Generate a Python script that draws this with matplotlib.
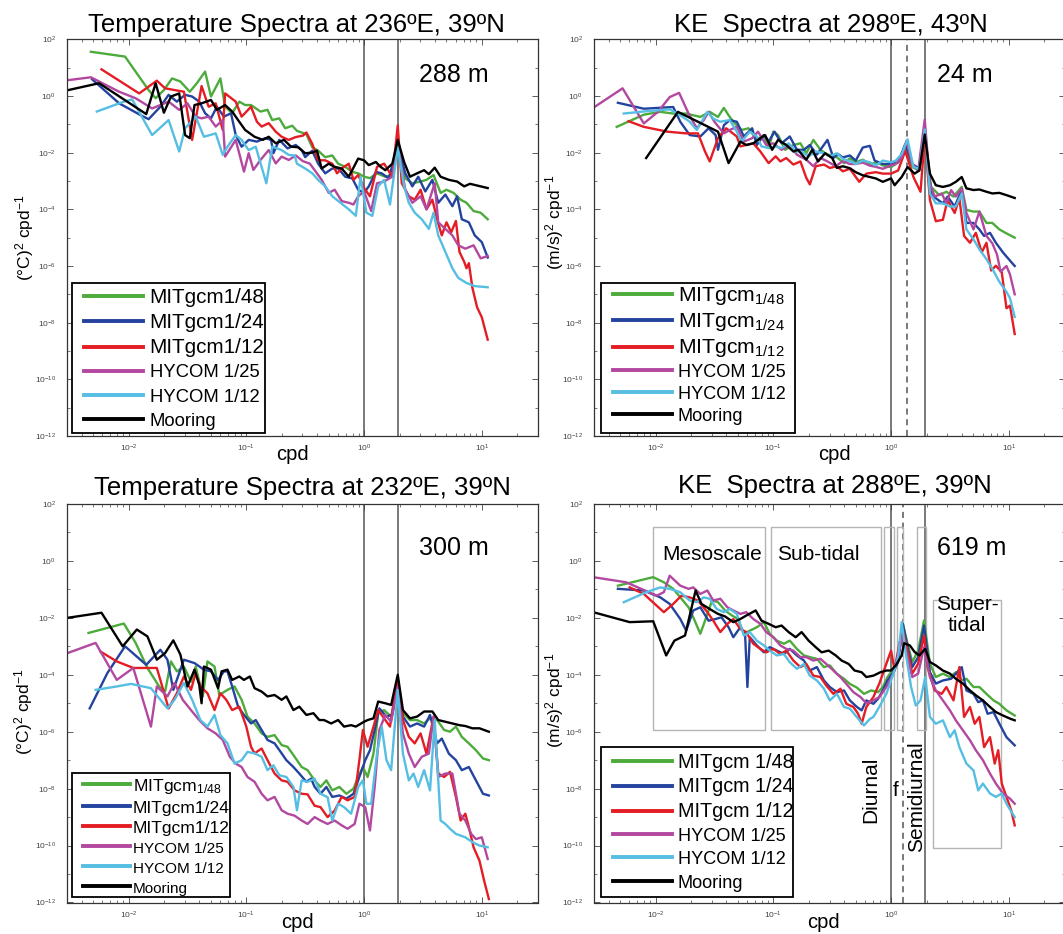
"""Four-panel spectra comparison (temperature and KE), log-log, file output only."""

import matplotlib

matplotlib.use("Agg")
import matplotlib.pyplot as plt
import numpy as np
from matplotlib.patches import Rectangle
from matplotlib.ticker import LogLocator, NullFormatter

plt.rcParams["font.family"] = ["Liberation Sans", "DejaVu Sans"]
plt.rcParams["mathtext.fontset"] = "custom"
plt.rcParams["mathtext.rm"] = "Liberation Sans"
plt.rcParams["mathtext.it"] = "Liberation Sans:italic"

# every series: (log10 frequency [cpd], log10 spectral density)
TL_GREEN = [(-2.32, 1.56), (-2.03, 1.39), (-1.91, 0.68), (-1.83, 0.21), (-1.77, -0.08), (-1.70, 0.21),
            (-1.63, 0.62), (-1.56, 0.51), (-1.48, 0.15), (-1.42, 0.45), (-1.35, 0.86), (-1.30, -0.02),
            (-1.22, 0.62), (-1.18, -0.38), (-1.12, -0.61), (-1.06, -0.20), (-1.01, -0.32), (-0.96, -0.32),
            (-0.88, -0.55), (-0.82, -0.49), (-0.78, -0.85), (-0.72, -0.79), (-0.67, -1.14), (-0.61, -1.05),
            (-0.57, -1.23), (-0.49, -1.35), (-0.44, -1.81), (-0.39, -1.93), (-0.33, -2.16), (-0.27, -2.10),
            (-0.22, -2.39), (-0.16, -2.50), (-0.10, -2.68), (-0.05, -2.73), (0.00, -2.85), (0.05, -2.90),
            (0.11, -2.73), (0.18, -2.85), (0.24, -2.79), (0.286, -1.55), (0.35, -2.91), (0.41, -3.08),
            (0.48, -3.02), (0.53, -2.96), (0.59, -2.79), (0.65, -3.42), (0.70, -3.31), (0.76, -3.42),
            (0.82, -3.66), (0.87, -3.77), (0.93, -4.06), (0.99, -4.12), (1.05, -4.35)]
TL_BLUE = [(-2.31, 0.59), (-2.08, -0.26), (-1.90, -0.67), (-1.83, -0.82), (-1.73, -0.38), (-1.66, 0.04),
           (-1.59, -0.20), (-1.52, 0.04), (-1.46, -0.02), (-1.40, -0.20), (-1.35, -0.61), (-1.30, -0.79),
           (-1.25, -0.38), (-1.19, -0.73), (-1.13, -0.61), (-1.09, -1.38), (-1.04, -1.79), (-0.98, -1.55),
           (-0.91, -1.61), (-0.84, -1.49), (-0.79, -1.55), (-0.77, -2.02), (-0.72, -1.55), (-0.65, -1.85),
           (-0.58, -1.73), (-0.53, -1.91), (-0.50, -2.16), (-0.44, -1.93), (-0.39, -2.39), (-0.33, -2.73),
           (-0.27, -2.56), (-0.22, -2.56), (-0.16, -2.85), (-0.10, -2.91), (-0.05, -3.31), (0.00, -3.42),
           (0.04, -3.19), (0.10, -2.68), (0.15, -2.73), (0.21, -2.91), (0.286, -1.75), (0.35, -2.73),
           (0.41, -3.19), (0.46, -2.85), (0.52, -3.37), (0.58, -2.96), (0.63, -3.77), (0.69, -3.48),
           (0.75, -3.89), (0.79, -3.54), (0.83, -4.35), (0.89, -4.46), (0.94, -4.92), (1.00, -5.16),
           (1.05, -5.70)]
TL_RED = [(-2.23, 0.94), (-1.91, 0.09), (-1.76, 0.54), (-1.69, 0.27), (-1.53, 0.15), (-1.46, -1.55),
          (-1.38, 0.35), (-1.32, -0.38), (-1.26, -0.26), (-1.20, -1.20), (-1.18, 0.09), (-1.09, -0.20),
          (-1.04, -0.73), (-0.96, -0.38), (-0.91, -0.91), (-0.87, -1.08), (-0.81, -0.96), (-0.75, -1.26),
          (-0.70, -1.44), (-0.64, -1.55), (-0.58, -1.45), (-0.52, -1.40), (-0.49, -1.29), (-0.44, -1.69),
          (-0.39, -2.27), (-0.33, -2.27), (-0.27, -2.39), (-0.23, -2.73), (-0.19, -2.56), (-0.13, -2.39),
          (-0.09, -2.96), (-0.05, -2.79), (0.00, -3.25), (0.05, -3.54), (0.11, -2.50), (0.17, -2.39),
          (0.24, -2.85), (0.286, -1.04), (0.32, -3.08), (0.38, -3.54), (0.43, -3.66), (0.48, -3.31),
          (0.53, -4.00), (0.58, -3.66), (0.62, -4.35), (0.66, -4.92), (0.70, -4.46), (0.74, -4.81),
          (0.78, -4.41), (0.81, -5.50), (0.85, -5.85), (0.87, -6.08), (0.89, -5.90), (0.92, -6.77),
          (0.96, -7.46), (1.00, -7.81), (1.05, -8.60)]
TL_MAGENTA = [(-2.51, 0.56), (-2.32, 0.66), (-2.08, 0.15), (-1.94, -0.08), (-1.80, -0.44), (-1.73, -0.32),
              (-1.66, -0.20), (-1.57, -0.49), (-1.50, -0.26), (-1.43, -0.73), (-1.38, -0.79), (-1.32, -0.73),
              (-1.26, -1.08), (-1.20, -0.85), (-1.18, -2.14), (-1.09, -1.55), (-1.02, -2.67), (-0.98, -2.02),
              (-0.94, -2.61), (-0.88, -2.26), (-0.81, -1.91), (-0.75, -2.38), (-0.70, -2.14), (-0.64, -2.26),
              (-0.58, -2.10), (-0.52, -2.30), (-0.46, -2.39), (-0.40, -2.73), (-0.36, -2.96), (-0.30, -3.42),
              (-0.25, -3.31), (-0.19, -3.71), (-0.13, -3.77), (-0.09, -3.83), (-0.05, -3.54), (0.00, -3.37),
              (0.06, -4.06), (0.11, -3.08), (0.17, -3.02), (0.24, -2.85), (0.286, -1.70), (0.35, -3.31),
              (0.41, -3.77), (0.48, -3.54), (0.53, -4.00), (0.60, -3.08), (0.63, -4.46), (0.69, -4.69),
              (0.75, -4.92), (0.80, -5.27), (0.86, -5.39), (0.93, -5.27), (0.99, -5.73), (1.05, -5.65)]
TL_CYAN = [(-2.27, -0.55), (-2.04, -0.20), (-1.97, -0.12), (-1.80, -1.38), (-1.66, -0.85), (-1.57, -1.96),
           (-1.52, -1.14), (-1.43, -0.73), (-1.36, -1.44), (-1.26, -1.32), (-1.20, -2.08), (-1.16, -1.79),
           (-1.09, -1.38), (-1.04, -1.55), (-0.98, -1.91), (-0.92, -1.79), (-0.83, -3.08), (-0.78, -1.79),
           (-0.70, -1.91), (-0.64, -2.08), (-0.59, -2.10), (-0.57, -2.39), (-0.50, -2.56), (-0.44, -2.73),
           (-0.39, -2.96), (-0.33, -3.19), (-0.27, -3.54), (-0.20, -3.77), (-0.13, -4.00), (-0.07, -4.23),
           (-0.03, -2.85), (0.02, -4.12), (0.07, -4.23), (0.12, -3.19), (0.17, -2.96), (0.22, -3.83),
           (0.286, -1.81), (0.34, -3.19), (0.38, -3.77), (0.43, -4.12), (0.49, -4.35), (0.55, -4.69),
           (0.59, -4.12), (0.63, -4.92), (0.69, -5.50), (0.75, -6.08), (0.80, -6.42), (0.87, -6.60),
           (0.94, -6.71), (1.05, -6.75)]
TL_BLACK = [(-2.51, 0.21), (-2.25, 0.45), (-1.85, -0.64), (-1.77, 0.45), (-1.70, -0.59), (-1.64, -0.02),
            (-1.57, 0.09), (-1.52, -1.38), (-1.48, -1.49), (-1.44, -0.32), (-1.38, -0.26), (-1.30, -0.14),
            (-1.25, -0.49), (-1.18, -0.32), (-1.12, -0.55), (-1.06, -0.91), (-1.01, -1.20), (-0.93, -1.44),
            (-0.86, -1.55), (-0.81, -1.44), (-0.75, -1.67), (-0.68, -1.55), (-0.62, -1.79), (-0.56, -1.81),
            (-0.50, -2.02), (-0.44, -2.00), (-0.40, -1.93), (-0.36, -2.56), (-0.30, -2.39), (-0.25, -2.50),
            (-0.19, -2.56), (-0.13, -2.85), (-0.05, -2.21), (0.00, -2.27), (0.04, -2.44), (0.10, -2.33),
            (0.14, -2.50), (0.18, -2.62), (0.24, -2.39), (0.286, -1.55), (0.34, -2.33), (0.39, -2.85),
            (0.45, -2.73), (0.51, -2.62), (0.55, -2.76), (0.60, -2.53), (0.65, -2.85), (0.72, -2.96),
            (0.79, -3.02), (0.85, -3.19), (0.90, -3.10), (0.97, -3.17), (1.05, -3.25)]

TR_GREEN = [(-2.33, -1.09), (-2.10, -0.66), (-1.96, -0.56), (-1.85, -0.62), (-1.74, -0.62), (-1.62, -0.74),
            (-1.54, -0.56), (-1.47, -0.74), (-1.42, -0.42), (-1.38, -0.68), (-1.34, -0.91), (-1.27, -1.20),
            (-1.21, -1.14), (-1.14, -1.55), (-1.08, -1.38), (-1.04, -1.84), (-1.00, -1.26), (-0.96, -1.38),
            (-0.90, -1.90), (-0.83, -1.73), (-0.77, -1.67), (-0.72, -2.02), (-0.66, -1.55), (-0.60, -1.90),
            (-0.54, -2.07), (-0.47, -2.13), (-0.40, -2.37), (-0.35, -2.20), (-0.30, -2.34), (-0.24, -2.25),
            (-0.18, -2.40), (-0.12, -2.35), (-0.07, -2.45), (0.00, -2.51), (0.06, -2.34), (0.12, -1.82),
            (0.18, -2.51), (0.24, -2.63), (0.286, -1.36), (0.34, -3.21), (0.41, -3.50), (0.47, -3.38),
            (0.53, -3.55), (0.60, -3.21), (0.64, -4.02), (0.70, -4.08), (0.75, -4.08), (0.81, -4.48),
            (0.86, -4.48), (0.92, -4.71), (0.98, -4.85), (1.05, -5.00)]
TR_BLUE = [(-2.32, -0.24), (-2.10, -0.45), (-1.85, -0.39), (-1.79, -0.91), (-1.71, -1.38), (-1.62, -1.43),
           (-1.55, -1.14), (-1.49, -1.38), (-1.47, -1.90), (-1.42, -1.03), (-1.37, -0.85), (-1.31, -0.91),
           (-1.25, -1.43), (-1.18, -1.14), (-1.14, -1.73), (-1.08, -1.38), (-1.04, -1.61), (-0.99, -1.26),
           (-0.93, -1.67), (-0.86, -1.43), (-0.80, -1.90), (-0.74, -1.90), (-0.69, -1.73), (-0.63, -2.07),
           (-0.54, -1.55), (-0.49, -2.19), (-0.45, -2.05), (-0.41, -2.17), (-0.35, -2.10), (-0.30, -2.28),
           (-0.24, -1.82), (-0.18, -1.76), (-0.14, -2.28), (-0.07, -2.40), (0.00, -2.40), (0.06, -2.34),
           (0.12, -1.70), (0.18, -2.40), (0.24, -2.57), (0.286, -1.20), (0.34, -3.44), (0.38, -3.61),
           (0.44, -3.79), (0.48, -3.55), (0.54, -3.90), (0.60, -3.32), (0.64, -4.48), (0.70, -4.48),
           (0.75, -4.71), (0.79, -4.94), (0.84, -4.83), (0.89, -5.18), (0.95, -5.52), (1.01, -5.81),
           (1.05, -6.00)]
TR_RED = [(-2.23, -0.89), (-2.10, -1.09), (-1.90, -1.26), (-1.74, -1.32), (-1.64, -1.32), (-1.58, -1.96),
          (-1.54, -2.31), (-1.47, -1.49), (-1.40, -1.14), (-1.31, -1.43), (-1.28, -1.78), (-1.23, -1.73),
          (-1.17, -1.67), (-1.11, -1.96), (-1.04, -2.37), (-0.98, -2.13), (-0.94, -2.31), (-0.89, -2.19),
          (-0.83, -2.42), (-0.77, -2.31), (-0.72, -2.89), (-0.69, -3.12), (-0.64, -2.48), (-0.57, -2.42),
          (-0.52, -2.54), (-0.46, -2.48), (-0.41, -2.66), (-0.35, -2.57), (-0.27, -3.03), (-0.21, -2.74),
          (-0.13, -2.69), (-0.07, -2.74), (0.00, -2.74), (0.06, -2.63), (0.12, -1.94), (0.19, -2.86),
          (0.25, -3.38), (0.286, -1.47), (0.33, -3.67), (0.38, -4.42), (0.44, -4.37), (0.48, -3.67),
          (0.54, -4.13), (0.58, -3.61), (0.62, -4.94), (0.67, -5.18), (0.72, -4.83), (0.77, -5.52),
          (0.81, -5.18), (0.85, -6.16), (0.89, -5.99), (0.94, -6.22), (0.98, -7.49), (1.01, -7.40),
          (1.05, -8.40)]
TR_MAGENTA = [(-2.53, -0.42), (-2.28, 0.27), (-2.10, -0.97), (-1.98, -0.56), (-1.88, -0.04), (-1.80, 0.11),
              (-1.72, -0.62), (-1.65, -1.14), (-1.59, -0.85), (-1.55, -0.56), (-1.50, -0.91), (-1.42, -1.32),
              (-1.37, -1.20), (-1.31, -1.09), (-1.25, -1.61), (-1.18, -1.49), (-1.13, -1.26), (-1.06, -1.73),
              (-1.00, -1.67), (-0.93, -1.90), (-0.86, -1.73), (-0.80, -2.07), (-0.72, -2.25), (-0.66, -2.48),
              (-0.60, -2.19), (-0.54, -2.31), (-0.47, -2.48), (-0.41, -2.30), (-0.35, -2.40), (-0.30, -2.40),
              (-0.24, -2.35), (-0.18, -2.46), (-0.13, -2.50), (-0.07, -2.57), (0.00, -2.45), (0.04, -2.40),
              (0.09, -2.17), (0.13, -1.59), (0.18, -2.40), (0.23, -2.63), (0.286, -0.83), (0.33, -3.09),
              (0.37, -3.55), (0.43, -3.44), (0.47, -3.79), (0.51, -3.32), (0.55, -3.55), (0.60, -3.27),
              (0.64, -4.13), (0.70, -4.71), (0.75, -4.08), (0.81, -4.94), (0.86, -5.20), (0.90, -5.60),
              (0.93, -6.20), (0.98, -6.00), (1.01, -6.30), (1.05, -7.00)]
TR_CYAN = [(-2.27, -0.62), (-2.08, -0.54), (-1.88, -0.47), (-1.79, -0.68), (-1.71, -0.91), (-1.65, -1.20),
           (-1.56, -0.56), (-1.51, -0.80), (-1.45, -0.91), (-1.37, -0.85), (-1.31, -1.26), (-1.27, -1.61),
           (-1.20, -1.26), (-1.14, -1.43), (-1.10, -1.78), (-1.04, -1.84), (-0.98, -1.78), (-0.93, -1.84),
           (-0.87, -1.67), (-0.81, -1.96), (-0.76, -1.96), (-0.70, -2.13), (-0.64, -1.96), (-0.57, -2.02),
           (-0.52, -2.13), (-0.46, -2.02), (-0.41, -2.22), (-0.35, -2.30), (-0.30, -2.40), (-0.24, -2.28),
           (-0.18, -2.34), (-0.13, -2.45), (-0.07, -2.28), (0.00, -2.34), (0.04, -2.28), (0.09, -2.05),
           (0.14, -1.53), (0.19, -2.51), (0.24, -2.57), (0.286, -1.18), (0.33, -3.44), (0.38, -3.79),
           (0.44, -3.79), (0.50, -3.90), (0.55, -3.90), (0.60, -3.44), (0.64, -4.71), (0.70, -5.06),
           (0.75, -5.41), (0.81, -5.76), (0.86, -6.10), (0.92, -6.56), (0.98, -6.91), (1.01, -7.14),
           (1.05, -7.80)]
TR_BLACK = [(-2.08, -2.19), (-1.81, -0.56), (-1.47, -1.26), (-1.38, -2.37), (-1.28, -1.61), (-1.23, -1.73),
            (-1.17, -1.67), (-1.11, -1.49), (-1.07, -1.38), (-1.01, -1.90), (-0.96, -1.55), (-0.89, -1.73),
            (-0.83, -1.96), (-0.79, -1.90), (-0.72, -2.25), (-0.67, -1.90), (-0.62, -2.31), (-0.56, -2.02),
            (-0.50, -2.19), (-0.46, -2.54), (-0.41, -2.48), (-0.35, -2.55), (-0.30, -2.69), (-0.24, -2.80),
            (-0.18, -2.86), (-0.13, -2.91), (-0.07, -3.03), (0.00, -2.91), (0.03, -3.15), (0.09, -2.86),
            (0.14, -2.51), (0.20, -2.74), (0.24, -2.63), (0.286, -1.36), (0.33, -2.74), (0.38, -3.15),
            (0.44, -3.21), (0.50, -3.15), (0.55, -3.03), (0.60, -2.86), (0.64, -3.26), (0.70, -3.32),
            (0.75, -3.30), (0.81, -3.38), (0.86, -3.44), (0.92, -3.42), (0.98, -3.50), (1.05, -3.60)]

BL_GREEN = [(-2.34, -2.53), (-2.04, -2.20), (-1.94, -2.88), (-1.84, -3.76), (-1.74, -4.41), (-1.69, -4.59),
            (-1.64, -3.53), (-1.59, -3.88), (-1.53, -3.71), (-1.47, -4.24), (-1.43, -3.71), (-1.37, -4.76),
            (-1.33, -3.53), (-1.27, -3.71), (-1.23, -4.71), (-1.16, -4.53), (-1.10, -4.41), (-1.04, -4.88),
            (-0.99, -5.47), (-0.93, -5.71), (-0.87, -6.06), (-0.82, -6.18), (-0.76, -6.12), (-0.70, -6.47),
            (-0.65, -6.53), (-0.59, -6.88), (-0.53, -7.24), (-0.48, -7.35), (-0.42, -7.71), (-0.37, -7.94),
            (-0.32, -7.71), (-0.27, -8.06), (-0.21, -7.94), (-0.15, -8.18), (-0.09, -8.00), (-0.05, -7.59),
            (-0.01, -7.24), (0.03, -7.59), (0.08, -6.77), (0.12, -5.35), (0.17, -5.24), (0.23, -5.47),
            (0.286, -4.29), (0.33, -5.35), (0.39, -5.59), (0.45, -5.59), (0.51, -5.71), (0.56, -5.53),
            (0.62, -5.59), (0.68, -5.94), (0.73, -6.00), (0.78, -5.82), (0.83, -6.18), (0.89, -6.41),
            (0.95, -6.65), (1.01, -6.94), (1.06, -7.00)]
BL_BLUE = [(-2.33, -5.18), (-2.18, -3.94), (-2.03, -3.00), (-1.85, -3.65), (-1.73, -3.12), (-1.67, -3.47),
           (-1.62, -4.53), (-1.53, -3.47), (-1.44, -3.59), (-1.36, -3.82), (-1.30, -3.88), (-1.24, -4.18),
           (-1.19, -3.88), (-1.16, -3.88), (-1.12, -4.41), (-1.07, -5.12), (-1.02, -5.41), (-0.96, -5.71),
           (-0.92, -5.59), (-0.87, -5.94), (-0.82, -6.29), (-0.76, -6.41), (-0.70, -6.76), (-0.66, -7.00),
           (-0.60, -7.24), (-0.55, -7.47), (-0.49, -7.76), (-0.45, -7.65), (-0.42, -7.94), (-0.37, -8.18),
           (-0.32, -7.94), (-0.27, -8.29), (-0.21, -8.24), (-0.15, -8.35), (-0.09, -8.18), (-0.04, -7.59),
           (0.01, -7.00), (0.05, -6.65), (0.09, -5.94), (0.13, -5.18), (0.19, -5.47), (0.24, -5.40),
           (0.286, -4.18), (0.33, -5.47), (0.39, -5.82), (0.45, -5.71), (0.51, -5.82), (0.56, -5.41),
           (0.62, -6.41), (0.66, -6.24), (0.72, -6.77), (0.78, -7.00), (0.83, -7.35), (0.89, -7.24),
           (0.95, -7.71), (1.01, -8.18), (1.06, -8.24)]
BL_RED = [(-2.24, -3.18), (-2.10, -3.53), (-1.96, -3.76), (-1.76, -3.76), (-1.66, -5.18), (-1.59, -4.65),
          (-1.53, -4.06), (-1.47, -4.53), (-1.43, -3.94), (-1.39, -4.41), (-1.33, -4.65), (-1.27, -5.24),
          (-1.22, -4.65), (-1.17, -4.88), (-1.12, -5.24), (-1.06, -5.12), (-1.00, -5.82), (-0.96, -6.53),
          (-0.93, -6.76), (-0.87, -6.59), (-0.82, -7.00), (-0.76, -7.47), (-0.70, -7.71), (-0.65, -7.76),
          (-0.59, -8.06), (-0.53, -8.18), (-0.48, -8.20), (-0.42, -8.60), (-0.37, -8.65), (-0.31, -9.00),
          (-0.25, -8.77), (-0.19, -8.29), (-0.14, -8.41), (-0.08, -8.29), (-0.04, -7.00), (-0.01, -5.94),
          (0.03, -6.53), (0.08, -5.82), (0.12, -5.24), (0.16, -5.47), (0.22, -5.82), (0.286, -4.12),
          (0.33, -5.59), (0.38, -6.18), (0.43, -6.41), (0.48, -6.06), (0.53, -6.77), (0.59, -5.47),
          (0.63, -7.47), (0.68, -7.59), (0.73, -7.41), (0.78, -8.29), (0.82, -9.12), (0.86, -8.88),
          (0.89, -9.35), (0.93, -10.06), (0.98, -10.53), (1.02, -11.24), (1.06, -11.88)]
BL_MAGENTA = [(-2.52, -3.24), (-2.28, -2.88), (-2.10, -4.18), (-1.96, -3.76), (-1.81, -5.82), (-1.76, -4.41),
              (-1.67, -4.76), (-1.61, -4.29), (-1.54, -4.88), (-1.47, -5.24), (-1.40, -5.59), (-1.33, -5.88),
              (-1.26, -6.06), (-1.20, -6.29), (-1.14, -6.88), (-1.09, -7.12), (-1.04, -7.24), (-0.99, -7.59),
              (-0.93, -7.76), (-0.87, -8.18), (-0.82, -8.41), (-0.76, -8.29), (-0.70, -8.76), (-0.65, -8.88),
              (-0.59, -8.95), (-0.53, -9.12), (-0.48, -9.24), (-0.42, -9.00), (-0.37, -9.12), (-0.31, -9.24),
              (-0.25, -9.12), (-0.19, -9.29), (-0.14, -9.41), (-0.08, -9.24), (-0.04, -8.53), (0.01, -8.65),
              (0.05, -9.47), (0.09, -7.94), (0.13, -5.94), (0.18, -5.41), (0.23, -5.65), (0.286, -4.41),
              (0.33, -6.06), (0.38, -6.77), (0.43, -7.24), (0.49, -6.88), (0.55, -6.77), (0.59, -5.47),
              (0.63, -7.59), (0.69, -7.47), (0.75, -7.47), (0.81, -8.88), (0.86, -9.12), (0.91, -9.59),
              (0.95, -9.77), (1.00, -9.71), (1.05, -10.47)]
BL_CYAN = [(-2.28, -4.53), (-2.10, -4.41), (-1.98, -4.32), (-1.81, -4.47), (-1.67, -5.18), (-1.61, -4.88),
           (-1.53, -4.29), (-1.46, -4.88), (-1.39, -5.59), (-1.33, -5.82), (-1.27, -5.41), (-1.22, -6.12),
           (-1.16, -6.41), (-1.10, -7.12), (-1.04, -7.00), (-0.99, -6.71), (-0.93, -6.76), (-0.87, -6.88),
           (-0.82, -7.35), (-0.77, -7.18), (-0.72, -7.53), (-0.66, -7.59), (-0.60, -7.94), (-0.57, -8.76),
           (-0.53, -7.71), (-0.48, -7.76), (-0.42, -7.65), (-0.37, -8.18), (-0.31, -8.30), (-0.27, -9.12),
           (-0.22, -8.53), (-0.17, -8.65), (-0.11, -8.88), (-0.05, -7.94), (-0.01, -7.71), (0.02, -8.53),
           (0.06, -8.53), (0.11, -6.77), (0.15, -5.82), (0.19, -7.00), (0.23, -7.35), (0.286, -4.53),
           (0.33, -6.77), (0.38, -7.71), (0.42, -7.47), (0.46, -7.94), (0.51, -7.35), (0.56, -8.06),
           (0.60, -5.59), (0.65, -9.12), (0.69, -9.24), (0.73, -9.41), (0.78, -9.59), (0.82, -9.65),
           (0.86, -9.71), (0.92, -9.88), (0.98, -10.00), (1.05, -10.06)]
BL_BLACK = [(-2.52, -2.00), (-2.23, -1.82), (-2.05, -3.00), (-1.93, -2.41), (-1.84, -2.65), (-1.76, -3.47),
            (-1.69, -3.24), (-1.62, -2.79), (-1.56, -3.29), (-1.50, -4.41), (-1.44, -3.82), (-1.40, -4.35),
            (-1.38, -5.00), (-1.36, -3.71), (-1.30, -3.82), (-1.24, -4.47), (-1.21, -3.88), (-1.16, -3.82),
            (-1.12, -4.18), (-1.06, -4.06), (-1.02, -4.18), (-0.97, -4.06), (-0.93, -4.47), (-0.87, -4.59),
            (-0.82, -4.76), (-0.76, -4.71), (-0.70, -4.88), (-0.66, -4.76), (-0.60, -5.24), (-0.55, -5.12),
            (-0.49, -5.41), (-0.43, -5.35), (-0.38, -5.59), (-0.34, -5.59), (-0.28, -5.71), (-0.22, -5.59),
            (-0.17, -5.82), (-0.11, -5.77), (-0.07, -5.82), (0.00, -5.65), (0.03, -5.59), (0.08, -5.53),
            (0.12, -4.94), (0.18, -5.00), (0.23, -5.06), (0.286, -4.00), (0.33, -5.24), (0.39, -5.53),
            (0.45, -5.47), (0.51, -5.29), (0.58, -5.29), (0.63, -5.59), (0.69, -5.65), (0.75, -5.71),
            (0.81, -5.77), (0.86, -5.80), (0.92, -5.88), (0.98, -5.88), (1.06, -6.00)]

BR_GREEN = [(-2.32, -0.87), (-2.02, -0.57), (-1.93, -0.75), (-1.85, -0.98), (-1.78, -1.33), (-1.72, -1.63),
            (-1.68, -1.98), (-1.62, -2.56), (-1.58, -2.10), (-1.52, -1.39), (-1.47, -1.45), (-1.41, -1.74),
            (-1.35, -1.92), (-1.30, -2.04), (-1.25, -2.56), (-1.20, -2.45), (-1.14, -2.33), (-1.08, -2.15),
            (-1.03, -2.56), (-0.97, -2.80), (-0.91, -2.91), (-0.86, -2.80), (-0.80, -3.09), (-0.74, -3.32),
            (-0.69, -3.38), (-0.63, -3.44), (-0.57, -3.73), (-0.52, -3.67), (-0.46, -3.97), (-0.40, -4.14),
            (-0.35, -4.32), (-0.29, -4.45), (-0.23, -4.67), (-0.17, -4.55), (-0.11, -4.61), (-0.07, -4.43),
            (-0.03, -4.08), (0.02, -3.79), (0.06, -3.38), (0.10, -2.21), (0.14, -2.91), (0.18, -3.55),
            (0.23, -3.15), (0.28, -2.09), (0.33, -3.61), (0.38, -4.08), (0.44, -3.96), (0.50, -4.08),
            (0.55, -3.91), (0.60, -4.20), (0.64, -4.14), (0.70, -4.43), (0.75, -4.43), (0.81, -4.67),
            (0.87, -4.90), (0.92, -5.02), (0.98, -5.25), (1.05, -5.43)]
BR_BLUE = [(-2.32, -0.98), (-2.10, -1.04), (-1.96, -1.28), (-1.88, -1.51), (-1.79, -2.04), (-1.74, -2.45),
           (-1.68, -1.74), (-1.62, -1.63), (-1.55, -2.10), (-1.49, -2.04), (-1.44, -1.98), (-1.38, -2.33),
           (-1.34, -2.68), (-1.28, -2.33), (-1.24, -2.56), (-1.22, -4.43), (-1.20, -2.68), (-1.14, -2.97),
           (-1.08, -3.21), (-1.03, -3.03), (-0.97, -3.15), (-0.91, -3.27), (-0.86, -3.09), (-0.80, -3.32),
           (-0.74, -3.50), (-0.69, -3.85), (-0.63, -3.73), (-0.57, -4.20), (-0.52, -4.43), (-0.46, -4.61),
           (-0.40, -4.55), (-0.35, -4.90), (-0.29, -5.13), (-0.25, -5.25), (-0.21, -4.90), (-0.15, -5.02),
           (-0.11, -4.84), (-0.07, -4.55), (-0.03, -4.20), (0.02, -3.91), (0.06, -3.55), (0.10, -2.21),
           (0.14, -3.03), (0.18, -3.73), (0.23, -3.38), (0.28, -2.27), (0.33, -3.91), (0.38, -4.31),
           (0.44, -4.20), (0.51, -4.14), (0.55, -3.96), (0.60, -3.73), (0.64, -4.55), (0.70, -4.67),
           (0.74, -4.96), (0.78, -4.90), (0.82, -5.37), (0.87, -5.31), (0.92, -5.72), (0.98, -6.19),
           (1.05, -6.48)]
BR_RED = [(-2.22, -0.93), (-2.10, -1.16), (-1.93, -1.80), (-1.85, -1.51), (-1.78, -1.22), (-1.71, -1.28),
          (-1.64, -1.39), (-1.56, -1.80), (-1.51, -2.10), (-1.45, -2.50), (-1.39, -2.21), (-1.34, -2.04),
          (-1.28, -2.39), (-1.23, -2.50), (-1.17, -2.91), (-1.11, -3.09), (-1.06, -3.21), (-1.00, -3.09),
          (-0.94, -3.27), (-0.89, -3.15), (-0.83, -3.50), (-0.77, -3.73), (-0.72, -3.62), (-0.66, -4.03),
          (-0.60, -4.08), (-0.55, -4.38), (-0.49, -4.67), (-0.43, -4.49), (-0.38, -5.02), (-0.32, -5.13),
          (-0.28, -5.37), (-0.25, -5.72), (-0.21, -5.13), (-0.15, -4.78), (-0.10, -4.31), (-0.04, -3.61),
          (0.00, -3.15), (0.03, -3.85), (0.07, -2.91), (0.10, -2.44), (0.14, -3.15), (0.18, -3.96),
          (0.23, -3.61), (0.28, -2.62), (0.31, -3.73), (0.37, -4.55), (0.43, -4.67), (0.47, -4.43),
          (0.53, -4.90), (0.58, -3.73), (0.62, -5.48), (0.67, -5.13), (0.71, -5.72), (0.75, -5.48),
          (0.79, -6.54), (0.84, -6.19), (0.88, -7.12), (0.91, -6.65), (0.94, -7.82), (0.98, -8.29),
          (1.02, -8.76), (1.05, -9.29)]
BR_MAGENTA = [(-2.53, -0.57), (-2.25, -0.75), (-1.99, -1.22), (-1.93, -1.10), (-1.88, -0.52), (-1.79, -0.87),
              (-1.72, -0.98), (-1.68, -0.93), (-1.62, -1.16), (-1.56, -1.04), (-1.51, -1.39), (-1.45, -1.33),
              (-1.39, -1.63), (-1.34, -1.74), (-1.28, -1.86), (-1.23, -1.80), (-1.17, -2.04), (-1.11, -2.21),
              (-1.06, -2.50), (-1.00, -2.68), (-0.94, -2.97), (-0.89, -3.09), (-0.83, -3.15), (-0.77, -3.38),
              (-0.72, -3.38), (-0.66, -3.50), (-0.60, -3.44), (-0.55, -3.62), (-0.49, -3.85), (-0.43, -4.08),
              (-0.38, -4.32), (-0.32, -4.61), (-0.26, -4.78), (-0.21, -5.00), (-0.15, -4.90), (-0.10, -4.78),
              (-0.04, -4.43), (0.02, -3.96), (0.06, -3.26), (0.10, -2.68), (0.14, -3.38), (0.18, -4.08),
              (0.23, -3.96), (0.28, -3.03), (0.33, -4.08), (0.38, -4.55), (0.44, -4.90), (0.50, -5.25),
              (0.55, -5.60), (0.61, -5.95), (0.67, -6.30), (0.72, -6.65), (0.78, -7.00), (0.84, -7.47),
              (0.89, -7.82), (0.95, -8.17), (1.01, -8.35), (1.05, -8.53)]
BR_CYAN = [(-2.27, -1.45), (-2.08, -1.10), (-1.96, -0.93), (-1.88, -0.98), (-1.79, -1.10), (-1.71, -1.39),
           (-1.65, -1.45), (-1.59, -1.28), (-1.54, -1.33), (-1.48, -1.69), (-1.42, -1.80), (-1.37, -1.69),
           (-1.31, -1.86), (-1.25, -2.62), (-1.20, -2.50), (-1.14, -2.80), (-1.08, -2.97), (-1.03, -3.15),
           (-0.97, -3.32), (-0.91, -3.27), (-0.86, -3.56), (-0.80, -3.79), (-0.74, -3.62), (-0.69, -4.03),
           (-0.63, -4.20), (-0.57, -4.49), (-0.52, -4.90), (-0.46, -4.67), (-0.40, -5.13), (-0.35, -5.19),
           (-0.29, -5.49), (-0.23, -5.78), (-0.18, -5.55), (-0.15, -5.48), (-0.10, -5.13), (-0.04, -4.67),
           (0.02, -3.96), (0.06, -3.38), (0.09, -2.15), (0.13, -3.38), (0.17, -4.43), (0.21, -5.08),
           (0.25, -4.90), (0.29, -4.08), (0.33, -5.48), (0.38, -5.72), (0.44, -5.60), (0.50, -6.19),
           (0.54, -5.95), (0.58, -6.54), (0.64, -7.12), (0.70, -7.36), (0.74, -8.06), (0.78, -7.82),
           (0.84, -8.17), (0.89, -8.29), (0.94, -8.17), (0.98, -8.53), (1.05, -9.00)]
BR_BLACK = [(-2.53, -1.80), (-2.22, -2.15), (-2.02, -2.12), (-1.91, -3.32), (-1.84, -2.80), (-1.75, -2.62),
            (-1.66, -1.04), (-1.61, -1.51), (-1.54, -1.69), (-1.47, -1.86), (-1.41, -1.95), (-1.34, -2.15),
            (-1.28, -2.04), (-1.23, -1.92), (-1.15, -1.74), (-1.10, -2.10), (-1.04, -2.21), (-0.98, -2.33),
            (-0.93, -2.27), (-0.87, -2.50), (-0.81, -2.68), (-0.76, -2.50), (-0.70, -2.80), (-0.64, -3.03),
            (-0.59, -3.21), (-0.53, -3.15), (-0.47, -3.32), (-0.42, -3.50), (-0.36, -3.62), (-0.31, -3.85),
            (-0.25, -3.91), (-0.21, -4.08), (-0.15, -4.03), (-0.09, -3.91), (-0.04, -3.85), (0.00, -3.85),
            (0.04, -3.67), (0.09, -3.32), (0.11, -2.89), (0.16, -2.97), (0.20, -3.20), (0.24, -3.32),
            (0.29, -3.09), (0.33, -3.55), (0.38, -3.67), (0.44, -3.85), (0.50, -3.96), (0.55, -4.14),
            (0.61, -4.31), (0.67, -4.55), (0.72, -4.72), (0.78, -4.90), (0.84, -5.13), (0.89, -5.31),
            (0.95, -5.43), (1.01, -5.54), (1.05, -5.60)]

COLORS = ["#4dab3b", "#23439e", "#e41c24", "#b2489f", "#55bee2", "#000000"]

LABELS_TL = ["MITgcm1/48", "MITgcm1/24", "MITgcm1/12", "HYCOM 1/25", "HYCOM 1/12", "Mooring"]
LABELS_TR = [r"MITgcm$_{\mathregular{1/48}}$", r"MITgcm$_{\mathregular{1/24}}$", r"MITgcm$_{\mathregular{1/12}}$",
             "HYCOM 1/25", "HYCOM 1/12", "Mooring"]
LABELS_BL = [r"MITgcm$_{\mathregular{1/48}}$", "MITgcm1/24", "MITgcm1/12", "HYCOM 1/25", "HYCOM 1/12", "Mooring"]
LABELS_BR = ["MITgcm 1/48", "MITgcm 1/24", "MITgcm 1/12", "HYCOM 1/25", "HYCOM 1/12", "Mooring"]

# tidal / inertial frequencies [cpd]
DIURNAL, SEMIDIURNAL = 1.0, 1.932
F_TR, F_BR = 1.364, 1.259

# frequency bands drawn as boxes in the 619 m panel: (log10 f0, log10 f1, log10 S0, log10 S1)
BANDS = [(-2.02, -1.07, -5.95, 1.18), (-1.02, -0.084, -5.95, 1.18), (-0.06, 0.025, -5.95, 1.18),
         (0.048, 0.105, -5.95, 1.18), (0.22, 0.30, -5.95, 1.18), (0.36, 0.935, -10.08, -1.39)]

W, H = 1063, 934
fig = plt.figure(figsize=(W / 100, H / 100), dpi=100)


def rect(l, t, r, b):
    return [l / W, 1 - b / H, (r - l) / W, (b - t) / H]


def ftext(x, y, s, **kw):
    fig.text(x / W, 1 - y / H, s, **kw)


def setup(ax):
    ax.set_xscale("log")
    ax.set_yscale("log")
    ax.set_xlim(3e-3, 30)
    ax.set_ylim(1e-12, 1e2)
    ax.set_xticks([1e-2, 1e-1, 1, 10])
    ax.xaxis.set_minor_locator(LogLocator(base=10, subs=np.arange(2, 10), numticks=30))
    ax.xaxis.set_minor_formatter(NullFormatter())
    ax.set_yticks(10.0 ** np.arange(-12, 3, 2))
    ax.set_yticks(10.0 ** np.arange(-11, 2, 2), minor=True)
    ax.yaxis.set_minor_formatter(NullFormatter())
    ax.tick_params(which="both", direction="in", top=True, right=True, color="#444444",
                   labelsize=6, labelcolor="#444444")
    ax.tick_params(which="major", length=4, width=0.6)
    ax.tick_params(which="minor", length=2, width=0.5)
    ax.tick_params(axis="y", pad=8)
    ax.tick_params(axis="x", pad=5)
    for s in ax.spines.values():
        s.set_linewidth(0.9)
        s.set_color("#333333")


def draw(ax, series, vlines, dashed):
    for v in vlines:
        ax.axvline(v, color="#555555", lw=1.1, zorder=1)
    if dashed is not None:
        ax.axvline(dashed, color="#555555", lw=1.1, ls=(0, (4, 3)), zorder=1)
    lines = []
    for s, c in zip(series, COLORS):
        a = np.asarray(s)
        (ln,) = ax.plot(10 ** a[:, 0], 10 ** a[:, 1], color=c, lw=1.7, zorder=2)
        lines.append(ln)
    return lines


def legend(ax, lines, labels, frame, anchor, sizes, spacing, hlen, tpad):
    """frame: (x0, y0, x1, y1) in axes fraction; anchor: top-left of the first handle."""
    x0, y0, x1, y1 = frame
    ax.add_patch(Rectangle((x0, y0), x1 - x0, y1 - y0, transform=ax.transAxes, fc="white",
                           ec="black", lw=1.3, zorder=4.5, clip_on=False))
    leg = ax.legend(lines, labels, loc="upper left", bbox_to_anchor=anchor, bbox_transform=ax.transAxes,
                    borderaxespad=0, borderpad=0, fontsize=14, frameon=False, handlelength=hlen,
                    handletextpad=tpad, labelspacing=spacing)
    leg.set_zorder(5)
    for ln in leg.get_lines():
        ln.set_linewidth(2.8)
    for t, s in zip(leg.get_texts(), sizes):
        t.set_fontsize(s)
    return leg


ax_tl = fig.add_axes(rect(67, 39.3, 538, 436))
ax_tr = fig.add_axes(rect(594, 39.3, 1065, 436))
ax_bl = fig.add_axes(rect(67, 504, 538, 902.5))
ax_br = fig.add_axes(rect(594, 504, 1065, 902.5))
for ax in (ax_tl, ax_tr, ax_bl, ax_br):
    setup(ax)

l_tl = draw(ax_tl, [TL_GREEN, TL_BLUE, TL_RED, TL_MAGENTA, TL_CYAN, TL_BLACK], [DIURNAL, SEMIDIURNAL], None)
l_tr = draw(ax_tr, [TR_GREEN, TR_BLUE, TR_RED, TR_MAGENTA, TR_CYAN, TR_BLACK], [DIURNAL, SEMIDIURNAL], F_TR)
l_bl = draw(ax_bl, [BL_GREEN, BL_BLUE, BL_RED, BL_MAGENTA, BL_CYAN, BL_BLACK], [DIURNAL, SEMIDIURNAL], None)
l_br = draw(ax_br, [BR_GREEN, BR_BLUE, BR_RED, BR_MAGENTA, BR_CYAN, BR_BLACK], [DIURNAL, SEMIDIURNAL], F_BR)

for x0, x1, y0, y1 in BANDS:
    ax_br.add_patch(Rectangle((10 ** x0, 10 ** y0), 10 ** x1 - 10 ** x0, 10 ** y1 - 10 ** y0,
                              fill=False, ec="#b4b4b4", lw=1.0, zorder=1.5))

legend(ax_tl, l_tl, LABELS_TL, (0.0106, 0.0076, 0.4204, 0.3857), (0.037, 0.374),
       [14.9, 14.9, 14.9, 13.3, 13.3, 13.3], 0.33, 3.03, 0.32)
legend(ax_tr, l_tr, LABELS_TR, (0.0149, 0.0076, 0.426, 0.3857), (0.040, 0.381),
       [15.2, 15.2, 15.2, 13.1, 13.1, 13.1], 0.22, 3.03, 0.32)
legend(ax_bl, l_bl, LABELS_BL, (0.0106, 0.0138, 0.346, 0.325), (0.0335, 0.315),
       [12.6, 12.6, 12.6, 11, 11, 11], 0.17, 2.42, 0.15)
legend(ax_br, l_br, LABELS_BR, (0.0149, 0.0138, 0.4225, 0.390), (0.040, 0.376),
       [14.2, 14.2, 14.2, 13.1, 13.1, 13.1], 0.30, 3.03, 0.32)

TFS = 18.5
ftext(296, 32, "Temperature Spectra at 236ºE, 39ºN", fontsize=TFS, ha="center", va="baseline")
ftext(831, 32, "KE  Spectra at 298ºE, 43ºN", fontsize=TFS, ha="center", va="baseline")
ftext(302, 495, "Temperature Spectra at 232ºE, 39ºN", fontsize=TFS, ha="center", va="baseline")
ftext(835, 493, "KE  Spectra at 288ºE, 39ºN", fontsize=TFS, ha="center", va="baseline")

DFS = 18
ftext(419, 82, "288 m", fontsize=DFS, va="baseline")
ftext(937, 82, "24 m", fontsize=DFS, va="baseline")
ftext(419, 555, "300 m", fontsize=DFS, va="baseline")
ftext(937, 555, "619 m", fontsize=DFS, va="baseline")

YT = "(°C)$^{\\mathregular{2}}$ cpd$^{\\mathregular{-1}}$"
YK = "(m/s)$^{\\mathregular{2}}$ cpd$^{\\mathregular{-1}}$"
ftext(25, 238, YT, fontsize=12.5, rotation=90, ha="center", va="center")
ftext(555, 222, YK, fontsize=12.5, rotation=90, ha="center", va="center")
ftext(24, 712, YT, fontsize=12.5, rotation=90, ha="center", va="center")
ftext(555, 700, YK, fontsize=12.5, rotation=90, ha="center", va="center")

XFS = 14.5
ftext(292, 455, "cpd", fontsize=XFS, ha="center", va="center")
ftext(834, 455, "cpd", fontsize=XFS, ha="center", va="center")
ftext(297, 923, "cpd", fontsize=XFS, ha="center", va="center")
ftext(823, 923, "cpd", fontsize=XFS, ha="center", va="center")

BFS = 15
ftext(662, 560, "Mesoscale", fontsize=BFS, va="baseline")
ftext(777, 560, "Sub-tidal", fontsize=BFS, va="baseline")
ftext(967, 631, "Super-\ntidal", fontsize=BFS, ha="center", va="baseline", linespacing=1.15)
ftext(871, 790, "Diurnal", fontsize=BFS, rotation=90, ha="center", va="center")
ftext(896, 790, "f", fontsize=BFS, ha="center", va="center")
ftext(917, 797, "Semidiurnal", fontsize=BFS, rotation=90, ha="center", va="center")

fig.savefig("out.png", dpi=100)
plt.close(fig)
